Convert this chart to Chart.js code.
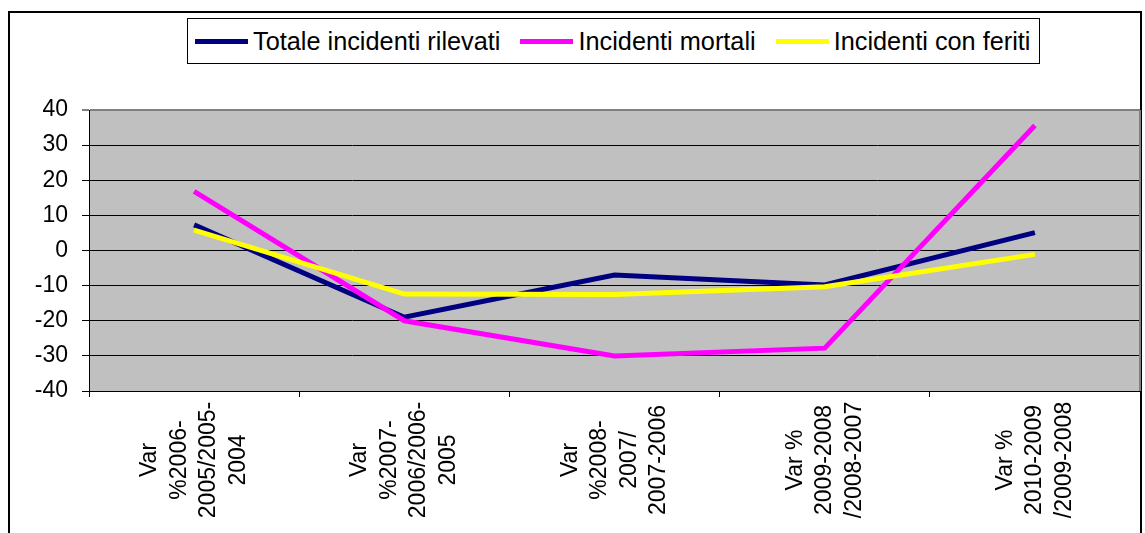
<!DOCTYPE html>
<html>
<head>
<meta charset="utf-8">
<script src="https://cdn.jsdelivr.net/npm/chart.js@4"></script>
<style>
  html, body { margin: 0; padding: 0; background: #fff; }
  body { width: 1145px; height: 533px; position: relative; overflow: hidden; font-family: "Liberation Sans", Arial, sans-serif; }
  #frame { position: absolute; left: 8px; top: 11px; width: 1134px; height: 600px; border: 2px solid #000; box-sizing: border-box; }
  #legend { position: absolute; left: 187px; top: 18px; width: 853px; height: 46px; border: 1px solid #000; box-sizing: border-box; background: #fff;
            display: flex; align-items: center; padding-left: 7px; font-size: 25.3px; color: #000; white-space: nowrap; }
  #legend .item { display: flex; align-items: center; margin-right: 20px; }
  #legend .sw { display: inline-block; width: 53px; height: 5px; margin-right: 5px; }
  canvas { position: absolute; left: 0; top: 0; }
</style>
</head>
<body>
<div id="frame"></div>
<div id="legend"></div>
<canvas id="c" width="1145" height="533"></canvas>
<script>
// ---- data ----
const categories = [
  ["Var", "%2006-", "2005/2005-", "2004"],
  ["Var", "%2007-", "2006/2006-", "2005"],
  ["Var", "%2008-", "2007/", "2007-2006"],
  ["Var %", "2009-2008", "/2008-2007"],
  ["Var %", "2010-2009", "/2009-2008"]
];
const seriesNames = ["Totale incidenti rilevati", "Incidenti mortali", "Incidenti con feriti"];
const totaleIncidenti = [7.3, -19.0, -7.0, -9.8, 5.1];
const incidentiMortali = [16.8, -20.0, -30.0, -27.8, 35.6];
const incidentiFeriti = [5.8, -12.4, -12.5, -10.3, -1.1];
const yTicks = [-40, -30, -20, -10, 0, 10, 20, 30, 40];
const seriesColors = ["#000080", "#FF00FF", "#FFFF00"];

// ---- legend (HTML) ----
const legendEl = document.getElementById('legend');
seriesNames.forEach((n, i) => {
  const it = document.createElement('span'); it.className = 'item';
  const sw = document.createElement('span'); sw.className = 'sw'; sw.style.background = seriesColors[i];
  const tx = document.createElement('span'); tx.textContent = n;
  it.appendChild(sw); it.appendChild(tx); legendEl.appendChild(it);
});

const FONT = '"Liberation Sans", Arial, sans-serif';

const plotBg = {
  id: 'plotBg',
  beforeDraw(chart) {
    const {ctx, chartArea: a} = chart;
    ctx.save();
    ctx.fillStyle = '#C0C0C0';
    ctx.fillRect(a.left, a.top, a.right - a.left, a.bottom - a.top);
    ctx.restore();
  },
  beforeDatasetsDraw(chart) {
    const {ctx, chartArea: a} = chart;
    ctx.save();
    ctx.strokeStyle = '#808080';
    ctx.lineWidth = 2;
    ctx.beginPath();
    ctx.moveTo(a.right, a.top);
    ctx.lineTo(a.right, a.bottom);
    ctx.stroke();
    ctx.restore();
  },
  afterDraw(chart) {
    const {ctx} = chart;
    const xs = chart.scales.x;
    ctx.save();
    ctx.fillStyle = '#000';
    ctx.font = '23px ' + FONT;
    ctx.textAlign = 'center';
    ctx.textBaseline = 'middle';
    categories.forEach((lines, i) => {
      const x = xs.getPixelForValue(i);
      ctx.save();
      ctx.translate(x, 460);
      ctx.rotate(-Math.PI / 2);
      const n = lines.length;
      lines.forEach((ln, j) => {
        ctx.fillText(ln, 0, (j - (n - 1) / 2) * 29.5);
      });
      ctx.restore();
    });
    ctx.restore();
  }
};

const mk = (label, data, color, order) => ({
  label, data, borderColor: color, backgroundColor: color, borderWidth: 5,
  pointRadius: 0, tension: 0, fill: false, order,
  borderCapStyle: 'butt', borderJoinStyle: 'miter'
});

new Chart(document.getElementById('c'), {
  type: 'line',
  data: {
    labels: categories,
    datasets: [
      mk(seriesNames[0], totaleIncidenti, seriesColors[0], 3),
      mk(seriesNames[1], incidentiMortali, seriesColors[1], 2),
      mk(seriesNames[2], incidentiFeriti, seriesColors[2], 1)
    ]
  },
  options: {
    responsive: false,
    animation: false,
    devicePixelRatio: 1,
    layout: { padding: { top: 110, right: 5, left: 0, bottom: 0 } },
    plugins: { legend: { display: false }, tooltip: { enabled: false } },
    scales: {
      x: {
        type: 'category',
        offset: true,
        grid: { offset: true, drawOnChartArea: false, drawTicks: true, tickLength: 6, color: '#000', lineWidth: 1 },
        border: { display: true, color: '#000', width: 1 },
        ticks: { display: false },
        afterFit(s) { s.height = 142; }
      },
      y: {
        min: yTicks[0], max: yTicks[yTicks.length - 1],
        afterBuildTicks(s) { s.ticks = yTicks.map(v => ({ value: v })); },
        ticks: { stepSize: 10, color: '#000', padding: 14, font: { family: FONT, size: 23 } },
        grid: { color: c => (c.tick && c.tick.value === 40) ? '#808080' : '#000', lineWidth: c => (c.tick && c.tick.value === 40) ? 2 : 1, tickLength: 7, drawTicks: true },
        border: { display: true, color: '#000', width: 1 },
        afterFit(s) { s.width = 89; }
      }
    }
  },
  plugins: [plotBg]
});
</script>
</body>
</html>
